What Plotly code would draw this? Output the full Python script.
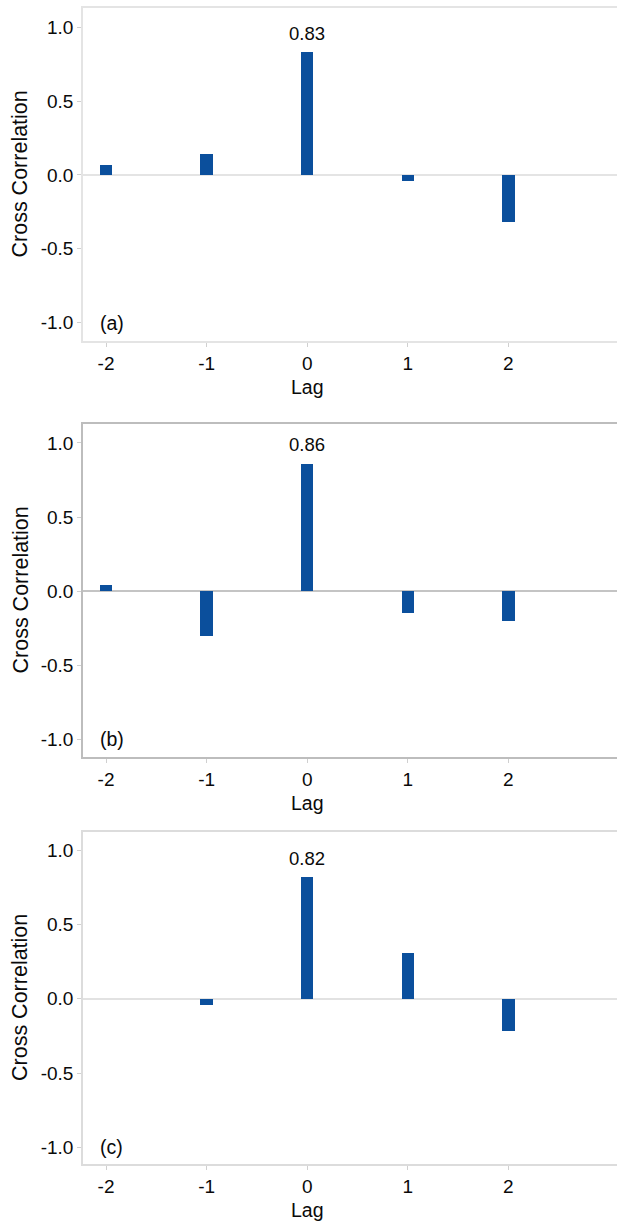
import plotly.graph_objects as go

lags = [-2, -1, 0, 1, 2]
corr_a = [0.07, 0.14, 0.83, -0.04, -0.32]
corr_b = [0.04, -0.30, 0.86, -0.15, -0.20]
corr_c = [0.0, -0.04, 0.82, 0.31, -0.22]
panel_labels = ["(a)", "(b)", "(c)"]
y_ticks = [-1.0, -0.5, 0.0, 0.5, 1.0]
x_ticks = [-2, -1, 0, 1, 2]

W, H = 617, 1221
BAR = "#0b4f9c"
FONT = "Liberation Sans, Arial, sans-serif"
TXT = "#0a0a0a"

# pixel boxes of the three panels (top, bottom) and y ranges
panels = [
    dict(vals=corr_a, top=8, bot=341, yr=[-1.125, 1.13], line="#e4e4e4", zero="#e4e4e4"),
    dict(vals=corr_b, top=424, bot=757, yr=[-1.12, 1.128], line="#bdbdbd", zero="#c4c4c4"),
    dict(vals=corr_c, top=832, bot=1164, yr=[-1.113, 1.124], line="#dcdcdc", zero="#e2e2e2"),
]
left_px = 83
xr = [-2.229, 3.08]

fig = go.Figure()
for i, p in enumerate(panels):
    n = "" if i == 0 else str(i + 1)
    xa, ya = "x" + n, "y" + n
    fig.add_trace(go.Bar(x=lags, y=p["vals"], width=0.125, marker=dict(color=BAR, line=dict(width=0)),
                         xaxis=xa, yaxis=ya, showlegend=False))
    dom = [1 - p["bot"] / H, 1 - p["top"] / H]
    fig.layout["xaxis" + n] = dict(
        domain=[left_px / W, 1], range=xr, anchor=ya, tickvals=x_ticks,
        ticktext=[str(v) for v in x_ticks], showline=True, linecolor=p["line"], linewidth=1.5,
        mirror=True, ticks="outside", ticklen=4, tickcolor="#d0d0d0", showgrid=False,
        zeroline=False, tickfont=dict(size=19, color=TXT, family=FONT), automargin=False)
    fig.layout["yaxis" + n] = dict(
        domain=dom, range=p["yr"], anchor=xa, tickvals=y_ticks,
        ticktext=["%.1f" % v for v in y_ticks], showline=True, linecolor=p["line"], linewidth=1.5,
        ticks="outside", ticklen=4, tickcolor="#d0d0d0", showgrid=False,
        zeroline=True, zerolinecolor=p["zero"], zerolinewidth=1.5,
        tickfont=dict(size=19, color=TXT, family=FONT), automargin=False)
    # peak value label
    k = max(range(len(p["vals"])), key=lambda j: p["vals"][j])
    fig.add_annotation(x=lags[k], y=p["vals"][k], xref=xa, yref=ya, text="%.2f" % p["vals"][k],
                       showarrow=False, yanchor="middle", yshift=19,
                       font=dict(size=18.5, color=TXT, family=FONT))
    # panel letter
    fig.add_annotation(x=-2.08, y=-1.0, xref=xa, yref=ya, text=panel_labels[i], showarrow=False,
                       xanchor="left", yanchor="middle", font=dict(size=19.5, color=TXT, family=FONT))
    # x title
    fig.add_annotation(x=0, xref=xa, y=1 - (p["bot"] + 46) / H, yref="paper", text="Lag",
                       showarrow=False, yanchor="middle", font=dict(size=19.5, color=TXT, family=FONT))
    # y title
    fig.add_annotation(x=20 / W, xref="paper", y=1 - (p["top"] + p["bot"]) / 2 / H, yref="paper",
                       text="Cross Correlation", textangle=-90, showarrow=False,
                       xanchor="center", yanchor="middle",
                       font=dict(size=21.5, color=TXT, family=FONT))

fig.update_layout(width=W, height=H, margin=dict(l=0, r=0, t=0, b=0),
                  paper_bgcolor="white", plot_bgcolor="white", bargap=0)
fig.write_html("out.html", config={"displayModeBar": False},
               post_script="document.body.style.margin='0';document.body.style.overflow='hidden';")
